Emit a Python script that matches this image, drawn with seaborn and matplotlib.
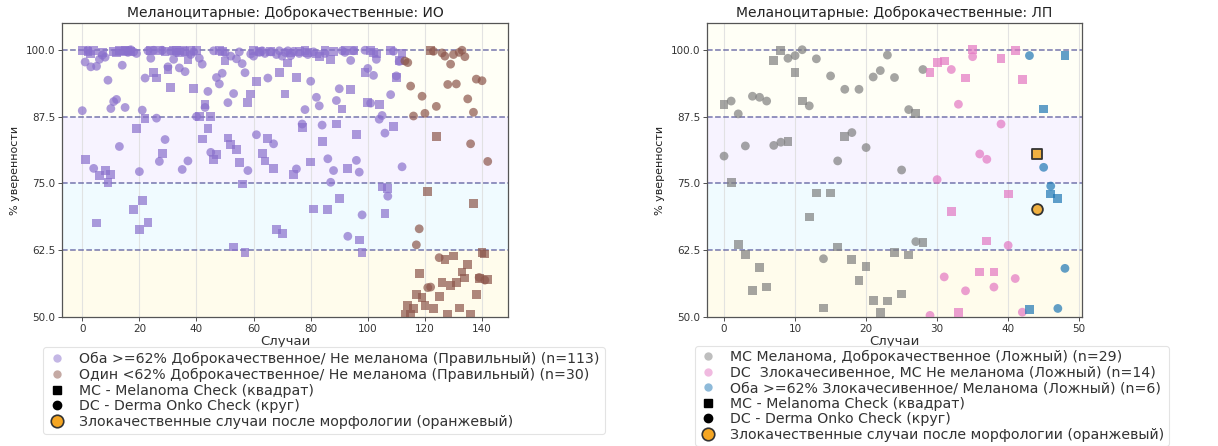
import numpy as np
import pandas as pd
import matplotlib
matplotlib.use("Agg")
import matplotlib.pyplot as plt
import seaborn as sns
from matplotlib.lines import Line2D

# ---------------- data: left panel (ИО) ----------------
left_title = "Меланоцитарные: Доброкачественные: ИО"
# MC (squares) and DC (circles), cases 0..112 -> group "both >=62%" (purple)
left_mc_purple = [99.8, 79.5, 99.6, 99.2, 99.9, 67.6, 76.5, 99.5, 77.4, 75.2,
                  76.6, 99.7, 99.4, 99.9, 99.6, 99.8, 99.9, 99.7, 70.1, 85.3,
                  66.3, 71.8, 87.2, 67.7, 99.9, 95.7, 94.7, 99.8, 80.6, 99.6,
                  96.3, 93.0, 99.9, 99.8, 99.5, 99.9, 99.7, 98.1, 99.9, 92.8,
                  99.9, 87.5, 83.3, 89.8, 85.3, 87.5, 79.5, 80.4, 99.9, 99.7,
                  97.9, 83.5, 82.3, 63.1, 81.4, 78.9, 74.9, 62.0, 90.1, 91.7,
                  99.8, 94.1, 99.6, 80.6, 79.2, 83.4, 99.7, 77.8, 66.4, 95.7,
                  65.6, 91.7, 97.5, 99.4, 76.6, 94.8, 99.7, 85.5, 99.8, 99.5,
                  79.0, 70.2, 99.2, 98.7, 82.8, 99.8, 70.1, 98.2, 99.6, 86.1,
                  72.1, 88.9, 99.9, 77.8, 92.5, 99.9, 84.2, 64.4, 62.0, 95.8,
                  90.1, 99.8, 99.5, 99.2, 89.7, 74.3, 69.3, 74.0, 99.9, 85.6,
                  94.8, 98.0, 99.3]
left_dc_purple = [88.6, 97.7, 99.9, 96.8, 77.8, 96.9, 98.2, 99.0, 98.6, 94.3,
                  89.0, 90.3, 90.7, 81.9, 97.1, 89.2, 99.5, 100.0, 99.6, 99.3,
                  77.2, 88.7, 94.7, 99.8, 98.4, 99.9, 87.2, 79.1, 99.9, 83.2,
                  96.8, 99.7, 98.2, 99.5, 96.6, 77.6, 95.9, 79.2, 99.1, 99.6,
                  87.5, 98.4, 97.3, 89.2, 92.2, 80.8, 99.8, 94.8, 93.6, 95.6,
                  99.4, 90.1, 98.8, 91.8, 98.3, 99.6, 97.4, 95.7, 77.4, 99.2,
                  98.8, 84.1, 99.5, 99.8, 99.3, 94.7, 99.6, 82.4, 99.1, 99.8,
                  98.8, 99.5, 99.8, 98.9, 99.7, 77.7, 99.3, 86.1, 88.8, 99.1,
                  94.1, 99.6, 91.1, 89.5, 85.9, 99.3, 79.6, 75.2, 77.4, 90.5,
                  92.7, 99.8, 99.5, 65.1, 98.0, 99.8, 79.3, 77.1, 69.1, 99.9,
                  96.5, 90.0, 95.2, 98.2, 87.0, 87.7, 84.4, 72.6, 91.6, 99.7,
                  95.1, 97.8, 78.1]
# cases 113..142 -> group "one <62%" (brown)
left_mc_brown = [50.4, 52.1, 50.4, 51.6, 54.2, 58.2, 53.6, 52.2, 73.5, 99.8,
                 51.6, 83.7, 53.9, 56.5, 60.8, 50.4, 55.9, 61.4, 56.5, 51.7,
                 58.4, 57.3, 59.8, 50.4, 71.2, 54.2, 57.2, 62.0, 61.8, 57.0]
left_dc_brown = [97.9, 97.6, 93.2, 87.6, 63.5, 66.5, 91.3, 88.1, 55.5, 55.6,
                 99.7, 89.4, 61.1, 99.4, 98.8, 93.5, 97.3, 99.1, 93.6, 99.5,
                 99.9, 98.7, 90.8, 82.4, 88.3, 94.5, 57.4, 94.2, 56.9, 79.1]
left_labels = ["Оба >=62% Доброкачественное/ Не меланома (Правильный) (n=113)",
               "Один <62% Доброкачественное/ Не меланома (Правильный) (n=30)"]

# ---------------- data: right panel (ЛП) ----------------
right_title = "Меланоцитарные: Доброкачественные: ЛП"
# cases 0..28 grey
right_mc_grey = [89.8, 75.1, 63.5, 61.7, 55.0, 59.2, 55.6, 98.0, 99.8, 82.8,
                 95.7, 90.4, 68.7, 73.2, 51.7, 73.2, 63.1, 83.8, 60.7, 56.8,
                 59.5, 53.1, 50.8, 53.0, 62.0, 54.3, 61.6, 88.0, 63.9]
right_dc_grey = [80.1, 90.4, 88.0, 82.0, 91.3, 91.1, 90.4, 82.1, 82.7, 98.4,
                 98.9, 100.0, 89.5, 98.3, 60.9, 95.1, 79.2, 92.6, 84.5, 92.6,
                 81.7, 94.9, 96.1, 99.0, 94.8, 77.5, 88.8, 64.1, 96.3]
# cases 29..42 pink
right_mc_pink = [95.8, 97.6, 97.9, 69.7, 50.8, 94.7, 100.0, 58.4, 64.2, 58.4,
                 98.3, 73.0, 99.8, 94.4]
right_dc_pink = [50.3, 75.7, 57.5, 96.3, 89.8, 54.9, 98.7, 80.5, 79.5, 55.6,
                 86.1, 63.4, 57.2, 50.9]
# cases 43..48 blue
right_mc_blue = [51.4, 80.4, 88.9, 73.0, 72.2, 98.9]
right_dc_blue = [98.9, 70.2, 78.0, 74.5, 51.6, 59.1]
right_malignant_cases = [44]
right_labels = ["МС Меланома, Доброкачественное (Ложный) (n=29)",
                "DC  Злокачесивенное, МС Не меланома (Ложный) (n=14)",
                "Оба >=62% Злокачесивенное/ Меланома (Ложный) (n=6)"]

common_labels = ["MC - Melanoma Check (квадрат)",
                 "DC - Derma Onko Check (круг)",
                 "Злокачественные случаи после морфологии (оранжевый)"]

yticks = [50.0, 62.5, 75.0, 87.5, 100.0]
bands = [(50, 62.5, "#fffcec"), (62.5, 75, "#f0fbff"), (75, 87.5, "#f7f3ff"), (87.5, 105, "#fffff6")]

# ---------------- style ----------------
sns.set_theme(style="white")
plt.rcParams['font.family'] = ['DejaVu Sans']

c_purple = "#8a70cc"
c_brown = "#8c564b"
c_grey = "#7f7f7f"
c_pink = "#e377c2"
c_blue = "#1f77b4"
ALPHA = 0.7
S = 40

fig = plt.figure(figsize=(12.18, 4.46), dpi=100)
axL = fig.add_axes([62/1218, 1-317/446, 446/1218, 294/446])
axR = fig.add_axes([707/1218, 1-317/446, 375/1218, 294/446])


def base(ax, title):
    for lo, hi, c in bands:
        ax.axhspan(lo, hi, color=c, zorder=0, lw=0)
    for y in yticks[1:]:
        ax.axhline(y, color="#55559a", ls="--", lw=1.1, alpha=0.8, zorder=1)
    ax.set_ylim(50, 105)
    ax.set_yticks(yticks)
    ax.set_yticklabels([f"{t:.1f}" for t in yticks])
    ax.grid(axis="x", color="#dddddd", lw=0.8, alpha=0.8)
    ax.set_axisbelow(True)
    ax.set_title(title, fontsize=10, pad=4, color="#222222")
    ax.set_xlabel("Случаи", fontsize=9.5, labelpad=1, color="#333333")
    ax.set_ylabel("% уверенности", fontsize=8, labelpad=4, color="#222222")
    ax.tick_params(axis="both", labelsize=7.5, colors="#333333", length=3, width=0.6,
                   bottom=True, left=True, pad=2)
    for sp in ax.spines.values():
        sp.set_color("#555555")
        sp.set_linewidth(0.9)


def draw_group(ax, start, mc, dc, color):
    xs = np.arange(start, start + len(mc))
    df = pd.DataFrame({"case": xs, "mc": mc, "dc": dc})
    sns.scatterplot(data=df, x="case", y="mc", marker="s", color=color, alpha=ALPHA,
                    s=S, edgecolor="none", ax=ax, legend=False, zorder=3)
    sns.scatterplot(data=df, x="case", y="dc", marker="o", color=color, alpha=ALPHA,
                    s=S, edgecolor="none", ax=ax, legend=False, zorder=3)


# left
base(axL, left_title)
draw_group(axL, 0, left_mc_purple, left_dc_purple, c_purple)
draw_group(axL, len(left_mc_purple), left_mc_brown, left_dc_brown, c_brown)
axL.set_xticks([0, 20, 40, 60, 80, 100, 120, 140])
axL.margins(x=0.05)
axL.set_ylim(50, 105)

# right
base(axR, right_title)
draw_group(axR, 0, right_mc_grey, right_dc_grey, c_grey)
n1 = len(right_mc_grey)
draw_group(axR, n1, right_mc_pink, right_dc_pink, c_pink)
n2 = n1 + len(right_mc_pink)
draw_group(axR, n2, right_mc_blue, right_dc_blue, c_blue)
all_mc = right_mc_grey + right_mc_pink + right_mc_blue
all_dc = right_dc_grey + right_dc_pink + right_dc_blue
mal = pd.DataFrame({"case": right_malignant_cases,
                    "mc": [all_mc[i] for i in right_malignant_cases],
                    "dc": [all_dc[i] for i in right_malignant_cases]})
sns.scatterplot(data=mal, x="case", y="mc", marker="s", color="#f0b040", s=60,
                edgecolor="#333333", linewidth=1.3, ax=axR, legend=False, zorder=4)
sns.scatterplot(data=mal, x="case", y="dc", marker="o", color="#f0b040", s=60,
                edgecolor="#333333", linewidth=1.3, ax=axR, legend=False, zorder=4)
axR.set_xticks([0, 10, 20, 30, 40, 50])
axR.set_ylim(50, 105)


def handles(colors, labels):
    h = [Line2D([0], [0], marker="o", ls="", color=c, alpha=0.5, markersize=6,
                markeredgewidth=0, label=l) for c, l in zip(colors, labels)]
    h.append(Line2D([0], [0], marker="s", ls="", color="black", markersize=6, label=common_labels[0]))
    h.append(Line2D([0], [0], marker="o", ls="", color="black", markersize=6, label=common_labels[1]))
    h.append(Line2D([0], [0], marker="o", ls="", markerfacecolor="#f5a623", markeredgecolor="#333333",
                    markeredgewidth=1.2, markersize=9, label=common_labels[2]))
    return h


legL = fig.legend(handles=handles([c_purple, c_brown], left_labels), loc="upper left",
                  bbox_to_anchor=(36/1218, 1-340/446), fontsize=10.2, frameon=True,
                  handletextpad=1.0, labelspacing=0.12, borderpad=0.35, handlelength=1.2,
                  labelcolor="#333333")
legR = fig.legend(handles=handles([c_grey, c_pink, c_blue], right_labels), loc="upper left",
                  bbox_to_anchor=(688/1218, 1-339/446), fontsize=10.2, frameon=True,
                  handletextpad=1.0, labelspacing=0.1, borderpad=0.3, handlelength=1.2,
                  labelcolor="#333333")
for lg in (legL, legR):
    lg.get_frame().set_edgecolor("#dddddd")
    lg.get_frame().set_linewidth(0.8)

fig.savefig("out.png", dpi=100)
